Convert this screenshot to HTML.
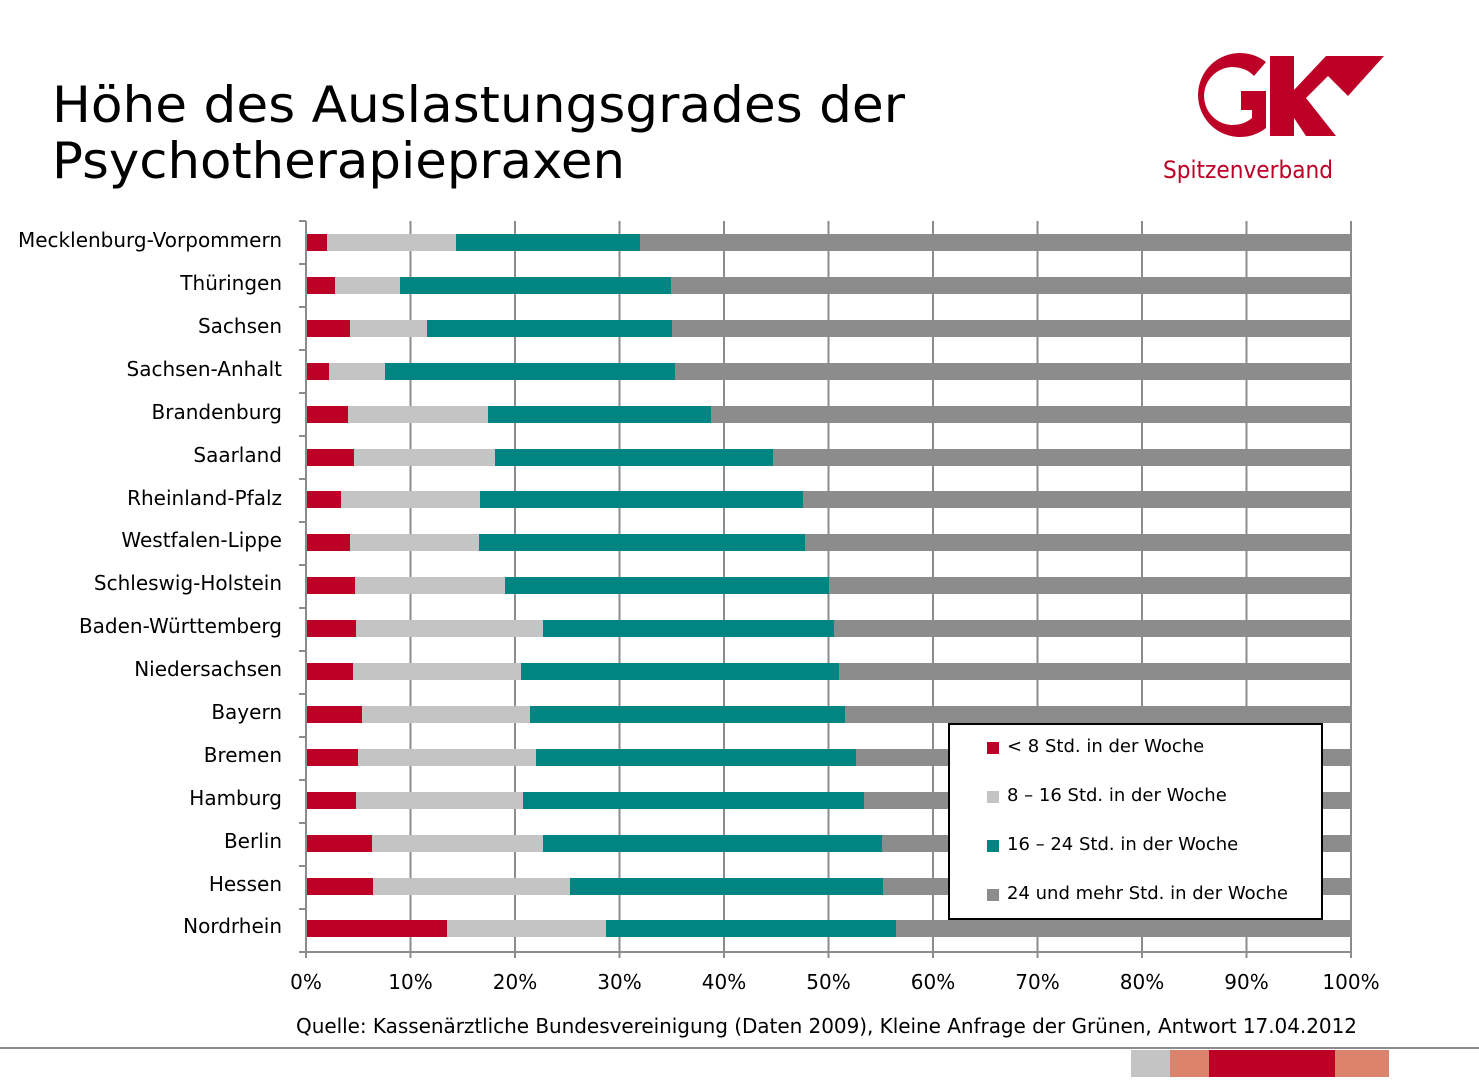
<!DOCTYPE html>
<html><head><meta charset="utf-8"><style>
body{margin:0;background:#fff;}
svg{display:block;font-family:"DejaVu Sans","Liberation Sans",sans-serif;}
</style></head><body>
<svg width="1479" height="1082" viewBox="0 0 1479 1082">
<text x="52" y="122" font-size="50" fill="#000" textLength="853" lengthAdjust="spacingAndGlyphs">Höhe des Auslastungsgrades der</text>
<text x="52" y="178" font-size="50" fill="#000" textLength="573" lengthAdjust="spacingAndGlyphs">Psychotherapiepraxen</text>
<!-- logo -->
<g fill="#bd0026">
<path d="M1266 62 A42 42 0 1 0 1266 128 L1266 91 L1241 91 L1241 110 L1252 110 L1252 118 A29 29 0 1 1 1254 76 Z"/>
<path d="M1270 56 L1294 56 L1294 90 L1326 56 L1384 56 L1348 96 L1328 76 L1306 98 L1336 136 L1306 136 L1294 118 L1294 136 L1270 136 Z"/>
</g>
<text x="1163" y="178" font-size="24" fill="#bd0026" textLength="170" lengthAdjust="spacingAndGlyphs">Spitzenverband</text>
<!-- gridlines -->
<g stroke="#8c8c8c" stroke-width="2">
<line x1="410.5" y1="221" x2="410.5" y2="958"/><line x1="515" y1="221" x2="515" y2="958"/>
<line x1="619.5" y1="221" x2="619.5" y2="958"/><line x1="724" y1="221" x2="724" y2="958"/>
<line x1="828.5" y1="221" x2="828.5" y2="958"/><line x1="933" y1="221" x2="933" y2="958"/>
<line x1="1037.5" y1="221" x2="1037.5" y2="958"/><line x1="1142" y1="221" x2="1142" y2="958"/>
<line x1="1246.5" y1="221" x2="1246.5" y2="958"/><line x1="1351" y1="221" x2="1351" y2="958"/>
<line x1="306" y1="221" x2="306" y2="958"/>
<line x1="299" y1="952" x2="1351" y2="952"/>
<line x1="299" y1="221" x2="306" y2="221"/><line x1="299" y1="264" x2="306" y2="264"/>
<line x1="299" y1="307" x2="306" y2="307"/><line x1="299" y1="350" x2="306" y2="350"/>
<line x1="299" y1="393" x2="306" y2="393"/><line x1="299" y1="436" x2="306" y2="436"/>
<line x1="299" y1="479" x2="306" y2="479"/><line x1="299" y1="522" x2="306" y2="522"/>
<line x1="299" y1="565" x2="306" y2="565"/><line x1="299" y1="608" x2="306" y2="608"/>
<line x1="299" y1="651" x2="306" y2="651"/><line x1="299" y1="694" x2="306" y2="694"/>
<line x1="299" y1="737" x2="306" y2="737"/><line x1="299" y1="780" x2="306" y2="780"/>
<line x1="299" y1="823" x2="306" y2="823"/><line x1="299" y1="866" x2="306" y2="866"/>
<line x1="299" y1="909" x2="306" y2="909"/>
</g>
<!-- bars -->
<g>
<rect x="307" y="234" width="20" height="17" fill="#bd0026"/><rect x="327" y="234" width="129" height="17" fill="#c4c4c4"/><rect x="456" y="234" width="184" height="17" fill="#008583"/><rect x="640" y="234" width="711" height="17" fill="#8c8c8c"/>
<rect x="307" y="277" width="28" height="17" fill="#bd0026"/><rect x="335" y="277" width="65" height="17" fill="#c4c4c4"/><rect x="400" y="277" width="271" height="17" fill="#008583"/><rect x="671" y="277" width="680" height="17" fill="#8c8c8c"/>
<rect x="307" y="320" width="43" height="17" fill="#bd0026"/><rect x="350" y="320" width="77" height="17" fill="#c4c4c4"/><rect x="427" y="320" width="245" height="17" fill="#008583"/><rect x="672" y="320" width="679" height="17" fill="#8c8c8c"/>
<rect x="307" y="363" width="22" height="17" fill="#bd0026"/><rect x="329" y="363" width="56" height="17" fill="#c4c4c4"/><rect x="385" y="363" width="290" height="17" fill="#008583"/><rect x="675" y="363" width="676" height="17" fill="#8c8c8c"/>
<rect x="307" y="406" width="41" height="17" fill="#bd0026"/><rect x="348" y="406" width="140" height="17" fill="#c4c4c4"/><rect x="488" y="406" width="223" height="17" fill="#008583"/><rect x="711" y="406" width="640" height="17" fill="#8c8c8c"/>
<rect x="307" y="449" width="47" height="17" fill="#bd0026"/><rect x="354" y="449" width="141" height="17" fill="#c4c4c4"/><rect x="495" y="449" width="278" height="17" fill="#008583"/><rect x="773" y="449" width="578" height="17" fill="#8c8c8c"/>
<rect x="307" y="491" width="34" height="17" fill="#bd0026"/><rect x="341" y="491" width="139" height="17" fill="#c4c4c4"/><rect x="480" y="491" width="323" height="17" fill="#008583"/><rect x="803" y="491" width="548" height="17" fill="#8c8c8c"/>
<rect x="307" y="534" width="43" height="17" fill="#bd0026"/><rect x="350" y="534" width="129" height="17" fill="#c4c4c4"/><rect x="479" y="534" width="326" height="17" fill="#008583"/><rect x="805" y="534" width="546" height="17" fill="#8c8c8c"/>
<rect x="307" y="577" width="48" height="17" fill="#bd0026"/><rect x="355" y="577" width="150" height="17" fill="#c4c4c4"/><rect x="505" y="577" width="324" height="17" fill="#008583"/><rect x="829" y="577" width="522" height="17" fill="#8c8c8c"/>
<rect x="307" y="620" width="49" height="17" fill="#bd0026"/><rect x="356" y="620" width="187" height="17" fill="#c4c4c4"/><rect x="543" y="620" width="291" height="17" fill="#008583"/><rect x="834" y="620" width="517" height="17" fill="#8c8c8c"/>
<rect x="307" y="663" width="46" height="17" fill="#bd0026"/><rect x="353" y="663" width="168" height="17" fill="#c4c4c4"/><rect x="521" y="663" width="318" height="17" fill="#008583"/><rect x="839" y="663" width="512" height="17" fill="#8c8c8c"/>
<rect x="307" y="706" width="55" height="17" fill="#bd0026"/><rect x="362" y="706" width="168" height="17" fill="#c4c4c4"/><rect x="530" y="706" width="315" height="17" fill="#008583"/><rect x="845" y="706" width="506" height="17" fill="#8c8c8c"/>
<rect x="307" y="749" width="51" height="17" fill="#bd0026"/><rect x="358" y="749" width="178" height="17" fill="#c4c4c4"/><rect x="536" y="749" width="320" height="17" fill="#008583"/><rect x="856" y="749" width="495" height="17" fill="#8c8c8c"/>
<rect x="307" y="792" width="49" height="17" fill="#bd0026"/><rect x="356" y="792" width="167" height="17" fill="#c4c4c4"/><rect x="523" y="792" width="341" height="17" fill="#008583"/><rect x="864" y="792" width="487" height="17" fill="#8c8c8c"/>
<rect x="307" y="835" width="65" height="17" fill="#bd0026"/><rect x="372" y="835" width="171" height="17" fill="#c4c4c4"/><rect x="543" y="835" width="339" height="17" fill="#008583"/><rect x="882" y="835" width="469" height="17" fill="#8c8c8c"/>
<rect x="307" y="878" width="66" height="17" fill="#bd0026"/><rect x="373" y="878" width="197" height="17" fill="#c4c4c4"/><rect x="570" y="878" width="313" height="17" fill="#008583"/><rect x="883" y="878" width="468" height="17" fill="#8c8c8c"/>
<rect x="307" y="920" width="140" height="17" fill="#bd0026"/><rect x="447" y="920" width="159" height="17" fill="#c4c4c4"/><rect x="606" y="920" width="290" height="17" fill="#008583"/><rect x="896" y="920" width="455" height="17" fill="#8c8c8c"/>
</g>
<!-- labels -->
<g font-size="20" fill="#000" text-anchor="end">
<text x="282" y="247">Mecklenburg-Vorpommern</text>
<text x="282" y="290">Thüringen</text>
<text x="282" y="333">Sachsen</text>
<text x="282" y="376">Sachsen-Anhalt</text>
<text x="282" y="419">Brandenburg</text>
<text x="282" y="462">Saarland</text>
<text x="282" y="505">Rheinland-Pfalz</text>
<text x="282" y="547">Westfalen-Lippe</text>
<text x="282" y="590">Schleswig-Holstein</text>
<text x="282" y="633">Baden-Württemberg</text>
<text x="282" y="676">Niedersachsen</text>
<text x="282" y="719">Bayern</text>
<text x="282" y="762">Bremen</text>
<text x="282" y="805">Hamburg</text>
<text x="282" y="848">Berlin</text>
<text x="282" y="891">Hessen</text>
<text x="282" y="933">Nordrhein</text>
</g>
<g font-size="20" fill="#000" text-anchor="middle">
<text x="306" y="989">0%</text><text x="410.5" y="989">10%</text><text x="515" y="989">20%</text>
<text x="619.5" y="989">30%</text><text x="724" y="989">40%</text><text x="828.5" y="989">50%</text>
<text x="933" y="989">60%</text><text x="1037.5" y="989">70%</text><text x="1142" y="989">80%</text>
<text x="1246.5" y="989">90%</text><text x="1351" y="989">100%</text>
</g>
<!-- legend -->
<rect x="949" y="724" width="373" height="195" fill="#fff" stroke="#000" stroke-width="2"/>
<g font-size="18" fill="#000">
<rect x="987" y="742" width="12" height="12" fill="#bd0026"/><text x="1007" y="752">&lt; 8 Std. in der Woche</text>
<rect x="987" y="791" width="12" height="12" fill="#c4c4c4"/><text x="1007" y="801">8 – 16 Std. in der Woche</text>
<rect x="987" y="840" width="12" height="12" fill="#008583"/><text x="1007" y="850">16 – 24 Std. in der Woche</text>
<rect x="987" y="889" width="12" height="12" fill="#8c8c8c"/><text x="1007" y="899">24 und mehr Std. in der Woche</text>
</g>
<text x="296" y="1033" font-size="20" fill="#000" textLength="1061">Quelle: Kassenärztliche Bundesvereinigung (Daten 2009), Kleine Anfrage der Grünen, Antwort 17.04.2012</text>
<!-- footer -->
<rect x="0" y="1047" width="1479" height="2" fill="#8c8c8c"/>
<rect x="1131" y="1050" width="39" height="27" fill="#c4c4c4"/>
<rect x="1170" y="1050" width="39" height="27" fill="#dc836b"/>
<rect x="1209" y="1050" width="126" height="27" fill="#bd0026"/>
<rect x="1335" y="1050" width="54" height="27" fill="#dc836b"/>
</svg>
</body></html>
